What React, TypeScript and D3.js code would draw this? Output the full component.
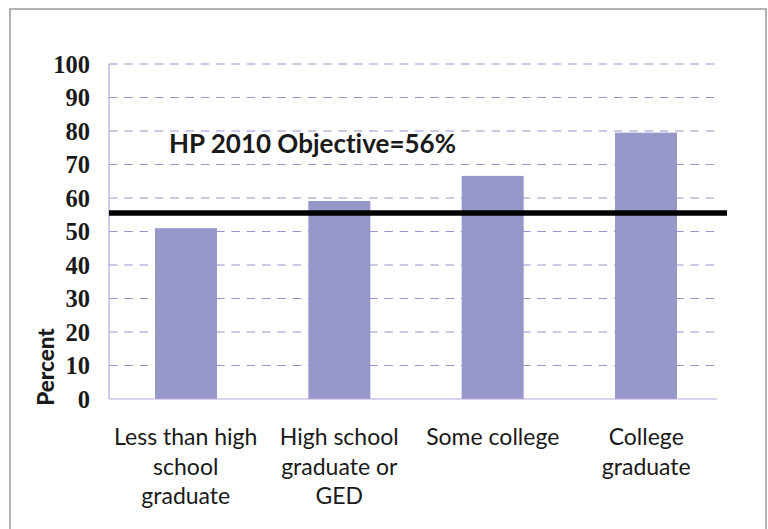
import React from "react";
import * as d3 from "d3";

const categories: string[][] = [
  ["Less than high", "school", "graduate"],
  ["High school", "graduate or", "GED"],
  ["Some college"],
  ["College", "graduate"],
];
const values: number[] = [51, 59.1, 66.6, 79.5];
const yTicks: number[] = [0, 10, 20, 30, 40, 50, 60, 70, 80, 90, 100];
const objective = 55.5;
const objectiveLabel = "HP 2010 Objective=56%";
const yLabel = "Percent";

const W = 768;
const H = 529;
const plot = { left: 109, right: 717, top: 64, bottom: 399 };
const catRange: [number, number] = [109, 723];

export default function App() {
  const x = d3
    .scaleBand<number>()
    .domain(d3.range(categories.length))
    .range(catRange)
    .paddingInner(0.5956)
    .paddingOuter(0.3);
  const band = d3
    .scaleBand<number>()
    .domain(d3.range(categories.length))
    .range(catRange);
  const y = d3.scaleLinear().domain([0, 100]).range([plot.bottom, plot.top]);

  const gridColor = "#9d92cf";
  const barColor = "#9797c9";

  return (
    <svg
      width={W}
      height={H}
      style={{ position: "absolute", left: 0, top: 0, display: "block", background: "#fff" }}
    >
      <rect x={10} y={9} width={756} height={540} fill="#fff" stroke="#9a9a9a" strokeWidth={1.5} />
      {yTicks
        .filter((t) => t > 0)
        .map((t) => (
          <line
            key={"g" + t}
            x1={plot.left}
            x2={plot.right}
            y1={y(t)}
            y2={y(t)}
            stroke={gridColor}
            strokeWidth={1.2}
            strokeDasharray="8.5,6.8"
          />
        ))}
      {values.map((v, i) => (
        <rect key={"b" + i} x={x(i)} y={y(v)} width={x.bandwidth()} height={y(0) - y(v)} fill={barColor} />
      ))}
      <line x1={plot.left} x2={plot.left} y1={plot.top} y2={plot.bottom} stroke="#b3a6d6" strokeWidth={1.2} />
      <line x1={plot.left} x2={plot.right} y1={plot.bottom} y2={plot.bottom} stroke="#b3a6d6" strokeWidth={1.2} />
      {yTicks.map((t) => (
        <text
          key={"t" + t}
          x={90}
          y={y(t)}
          dy="0.35em"
          textAnchor="end"
          fontFamily="Liberation Serif"
          fontWeight="bold"
          fontSize={24.5}
          fill="#1a1a1a"
        >
          {t}
        </text>
      ))}
      <text
        transform={`translate(54, ${367}) rotate(-90)`}
        textAnchor="middle"
        fontFamily="Lato"
        fontWeight="900"
        fontSize={22.5}
        fill="#1a1a1a"
      >
        {yLabel}
      </text>
      <line x1={plot.left} x2={727} y1={y(objective)} y2={y(objective)} stroke="#000" strokeWidth={5.5} />
      <text
        x={169}
        y={153}
        fontFamily="Lato"
        fontWeight="bold"
        fontSize={26}
        fill="#1a1a1a"
        style={{ fontVariantLigatures: "none" }}
      >
        {objectiveLabel}
      </text>
      {categories.map((lines, i) => (
        <text
          key={"c" + i}
          x={(band(i) as number) + band.bandwidth() / 2}
          y={445}
          textAnchor="middle"
          fontFamily="Lato"
          fontSize={23}
          fill="#1a1a1a"
        >
          {lines.map((l, j) => (
            <tspan key={j} x={(band(i) as number) + band.bandwidth() / 2} y={445 + j * 29.5}>
              {l}
            </tspan>
          ))}
        </text>
      ))}
    </svg>
  );
}
